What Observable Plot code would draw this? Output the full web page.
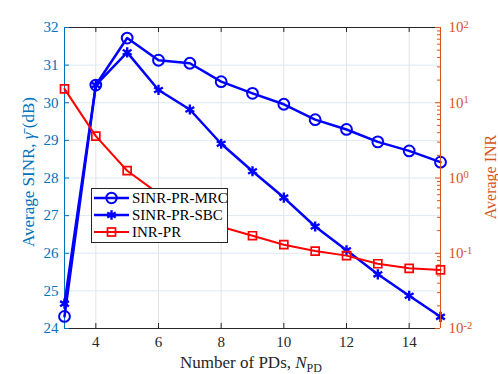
<!DOCTYPE html>
<html>
<head>
<meta charset="utf-8">
<script src="https://cdn.jsdelivr.net/npm/d3@7"></script>
<script src="https://cdn.jsdelivr.net/npm/@observablehq/plot@0.6"></script>
<style>
  html, body { margin: 0; padding: 0; background: #fff; }
  #wrap { position: relative; width: 498px; height: 374px; overflow: hidden; }
  #wrap > svg, #wrap > figure { position: absolute; left: 0; top: 0; margin: 0; }
  #wrap svg text { font-family: "Liberation Serif", "Times New Roman", serif; }
</style>
</head>
<body>
<div id="wrap"></div>
<script>
// ---- data ----
const nPD = [3, 4, 5, 6, 7, 8, 9, 10, 11, 12, 13, 14, 15];
const sinrMRC = [24.32, 30.47, 31.72, 31.13, 31.05, 30.56, 30.25, 29.96, 29.55, 29.29, 28.96, 28.72, 28.42];
const sinrSBC = [24.66, 30.47, 31.34, 30.34, 29.82, 28.91, 28.18, 27.48, 26.71, 26.08, 25.44, 24.87, 24.31];
const inrPR = [15.3, 3.6, 1.25, 0.62, 0.36, 0.225, 0.171, 0.130, 0.107, 0.093, 0.0725, 0.063, 0.060];
const seriesNames = ["SINR-PR-MRC", "SINR-PR-SBC", "INR-PR"];
const xTicks = [4, 6, 8, 10, 12, 14];
const yLeftTicks = [24, 25, 26, 27, 28, 29, 30, 31, 32];
const yRightTicks = [0.01, 0.1, 1, 10, 100];
const yRightMinor = [0.01, 0.1, 1, 10].flatMap(b => [2, 3, 4, 5, 6, 7, 8, 9].map(m => +(b * m).toPrecision(3)));
const xLabel = ["Number of PDs, ", "N", "PD"];
const yLeftLabel = ["Average SINR, ", "γ̄", " (dB)"];
const yRightLabel = "Average INR";

// ---- layout ----
const W = 498, H = 374;
const mL = 64, mR = 58, mT = 27, mB = 46;
const innerW = W - mL - mR, innerH = H - mT - mB;
const BLUE_AX = "#0072BD", ORANGE_AX = "#D95319", DARK = "#262626";
const font = {fontFamily: "'Liberation Serif', 'Times New Roman', serif", fontSize: "15px", background: "transparent", overflow: "visible"};

const rowsMRC = nPD.map((x, i) => ({x, y: sinrMRC[i]}));
const rowsSBC = nPD.map((x, i) => ({x, y: sinrSBC[i]}));
const rowsINR = nPD.map((x, i) => ({x, y: inrPR[i]}));

const common = {width: W, height: H, marginLeft: mL, marginRight: mR, marginTop: mT, marginBottom: mB, style: font};

const p1 = Plot.plot({
  ...common,
  x: {domain: [3, 15]},
  y: {domain: [24, 32]},
  marks: [
    Plot.ruleX(xTicks, {x: d => d, stroke: "#e3e3e3", strokeWidth: 1}),
    Plot.ruleY(yLeftTicks.slice(1, -1), {y: d => d, stroke: "#dde9f3", strokeWidth: 1}),
    Plot.ruleY([24], {y: d => d, stroke: DARK, strokeWidth: 1}),
    Plot.ruleY([32], {y: d => d, stroke: DARK, strokeWidth: 1}),
    Plot.ruleX([3], {x: d => d, stroke: BLUE_AX, strokeWidth: 1}),
    Plot.tickX(xTicks, {x: d => d, insetTop: innerH - 5, stroke: DARK}),
    Plot.tickX(xTicks, {x: d => d, insetBottom: innerH - 5, stroke: DARK}),
    Plot.tickY(yLeftTicks, {y: d => d, insetRight: innerW - 5, stroke: BLUE_AX}),
    Plot.axisX({ticks: xTicks, tickSize: 0, tickPadding: 8, label: null, color: DARK}),
    Plot.axisY({ticks: yLeftTicks, tickSize: 0, tickPadding: 6, label: null, color: BLUE_AX}),
    Plot.line(rowsMRC, {x: "x", y: "y", stroke: "#0000ff", strokeWidth: 2.5}),
    Plot.dot(rowsMRC, {x: "x", y: "y", r: 5.4, stroke: "#0000ff", strokeWidth: 2, fill: "none"}),
    Plot.line(rowsSBC, {x: "x", y: "y", stroke: "#0000ff", strokeWidth: 2.5}),
    Plot.dot(rowsSBC, {x: "x", y: "y", r: 4.8, symbol: "asterisk", stroke: "#0000ff", strokeWidth: 2.4})
  ]
});

const p2 = Plot.plot({
  ...common,
  x: {domain: [3, 15], axis: null},
  y: {type: "log", domain: [0.01, 100]},
  marks: [
    Plot.ruleX([15], {x: d => d, stroke: ORANGE_AX, strokeWidth: 1}),
    Plot.tickY(yRightTicks, {y: d => d, insetLeft: innerW - 5, stroke: ORANGE_AX}),
    Plot.tickY(yRightMinor, {y: d => d, insetLeft: innerW - 3, stroke: ORANGE_AX}),
    Plot.axisY({anchor: "right", ticks: yRightTicks, tickSize: 0, tickPadding: 8, label: null, color: ORANGE_AX,
      tickFormat: d => "10^" + Math.round(Math.log10(d))}),
    Plot.line(rowsINR, {x: "x", y: "y", stroke: "#ff0000", strokeWidth: 2}),
    Plot.dot(rowsINR, {x: "x", y: "y", r: 4.5, symbol: "square", stroke: "#ff0000", strokeWidth: 1.7, fill: "none"})
  ]
});

const wrap = document.getElementById("wrap");
wrap.appendChild(p1);
wrap.appendChild(p2);

// superscripts on log tick labels
p2.querySelectorAll("text").forEach(t => {
  const s = t.textContent;
  if (s.includes("^")) {
    const [base, exp] = s.split("^");
    t.textContent = base;
    const ts = document.createElementNS("http://www.w3.org/2000/svg", "tspan");
    ts.setAttribute("dy", "-0.42em");
    ts.setAttribute("font-size", "10.5px");
    ts.textContent = exp;
    t.appendChild(ts);
  }
});

// overlay: axis labels + legend
const ov = d3.select(wrap).append("svg")
  .attr("width", W).attr("height", H);

// x label
const xl = ov.append("text").attr("x", 251).attr("y", 368)
  .attr("text-anchor", "middle").attr("font-size", "17px").attr("fill", DARK);
xl.append("tspan").text(xLabel[0]);
xl.append("tspan").attr("font-style", "italic").text(xLabel[1]);
xl.append("tspan").attr("dy", "0.3em").attr("font-size", "12px").text(xLabel[2]);

// left y label
const yl = ov.append("text").attr("transform", "translate(28,172) rotate(-90)")
  .attr("text-anchor", "middle").attr("dy", "0.35em").attr("font-size", "17px").attr("fill", BLUE_AX);
yl.append("tspan").text(yLeftLabel[0]);
yl.append("tspan").attr("font-style", "italic").text(yLeftLabel[1]);
yl.append("tspan").text(yLeftLabel[2]);

// right y label
ov.append("text").attr("transform", "translate(490,177) rotate(-90)")
  .attr("text-anchor", "middle").attr("dy", "0.35em").attr("font-size", "16px").attr("fill", ORANGE_AX)
  .text(yRightLabel);

// legend
const lg = ov.append("g");
lg.append("rect").attr("x", 91.5).attr("y", 188.5).attr("width", 136).attr("height", 54)
  .attr("fill", "#fff").attr("stroke", DARK).attr("stroke-width", 1);
const legendStyle = [
  {stroke: "#0000ff", sw: 2.5, sym: "circle"},
  {stroke: "#0000ff", sw: 2.5, sym: "asterisk"},
  {stroke: "#ff0000", sw: 2, sym: "square"}
];
seriesNames.forEach((name, i) => {
  const yy = 198 + i * 17;
  const st = legendStyle[i];
  lg.append("line").attr("x1", 94).attr("x2", 129).attr("y1", yy).attr("y2", yy)
    .attr("stroke", st.stroke).attr("stroke-width", st.sw);
  const cx = 111.5;
  if (st.sym === "circle") {
    lg.append("circle").attr("cx", cx).attr("cy", yy).attr("r", 5.2).attr("fill", "none")
      .attr("stroke", st.stroke).attr("stroke-width", 2);
  } else if (st.sym === "asterisk") {
    lg.append("path").attr("transform", `translate(${cx},${yy})`)
      .attr("d", d3.symbol(d3.symbolAsterisk, 4.6 * 4.6 * Math.PI)())
      .attr("fill", "none").attr("stroke", st.stroke).attr("stroke-width", 2.4);
  } else {
    lg.append("rect").attr("x", cx - 4).attr("y", yy - 4).attr("width", 8).attr("height", 8)
      .attr("fill", "none").attr("stroke", st.stroke).attr("stroke-width", 1.7);
  }
  lg.append("text").attr("x", 132).attr("y", yy).attr("dy", "0.35em")
    .attr("font-size", "15px").attr("fill", "#000").text(name);
});
</script>
</body>
</html>
